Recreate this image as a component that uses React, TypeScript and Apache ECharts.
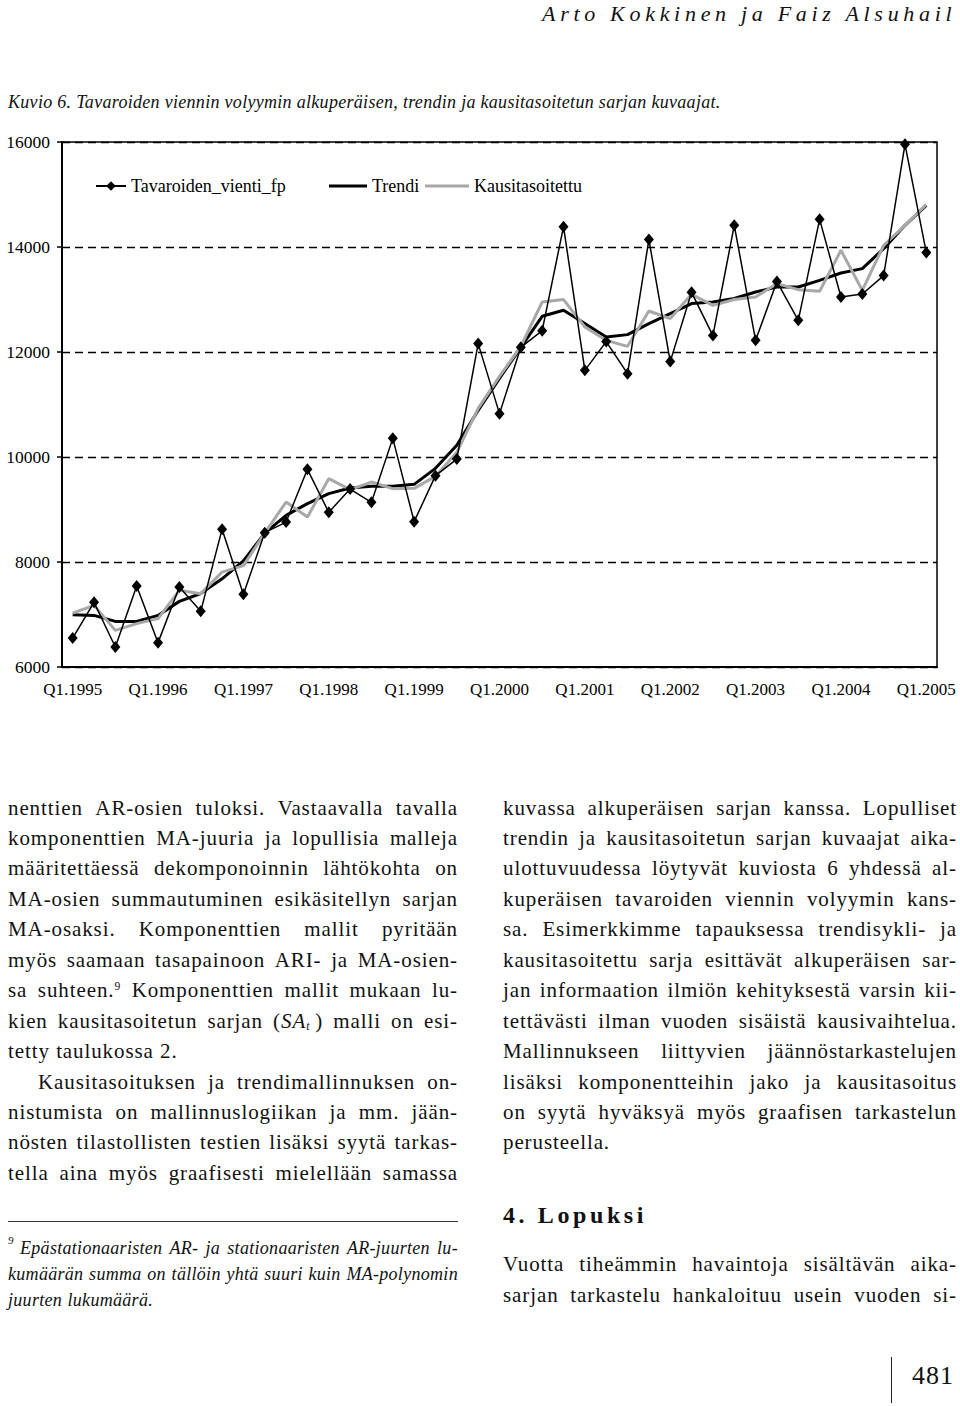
import React, { useEffect, useRef } from "react";
import * as echarts from "echarts";

const categories = [
  "Q1.1995", "Q2.1995", "Q3.1995", "Q4.1995",
  "Q1.1996", "Q2.1996", "Q3.1996", "Q4.1996",
  "Q1.1997", "Q2.1997", "Q3.1997", "Q4.1997",
  "Q1.1998", "Q2.1998", "Q3.1998", "Q4.1998",
  "Q1.1999", "Q2.1999", "Q3.1999", "Q4.1999",
  "Q1.2000", "Q2.2000", "Q3.2000", "Q4.2000",
  "Q1.2001", "Q2.2001", "Q3.2001", "Q4.2001",
  "Q1.2002", "Q2.2002", "Q3.2002", "Q4.2002",
  "Q1.2003", "Q2.2003", "Q3.2003", "Q4.2003",
  "Q1.2004", "Q2.2004", "Q3.2004", "Q4.2004",
  "Q1.2005",
];

const exportsFp = [
  6551, 7231, 6380, 7542, 6464, 7523, 7060, 8622, 7384, 8559,
  8761, 9765, 8946, 9390, 9136, 10355, 8769, 9645, 9961, 12160,
  10826, 12089, 12407, 14388, 11651, 12198, 11588, 14141, 11817, 13137,
  12312, 14413, 12222, 13341, 12603, 14527, 13047, 13104, 13455, 15956,
  13893,
];

const trend = [
  6997, 6983, 6869, 6869, 6983, 7250, 7400, 7680, 8020, 8551,
  8889, 9112, 9302, 9409, 9441, 9441, 9479, 9784, 10222, 10889,
  11498, 12089, 12680, 12794, 12541, 12285, 12331, 12541, 12731, 12922,
  12952, 13020, 13142, 13238, 13238, 13365, 13504, 13588, 13969, 14413,
  14794,
];

const seasonAdj = [
  7027, 7174, 6698, 6826, 6921, 7460, 7397, 7808, 7930, 8551,
  9142, 8856, 9588, 9378, 9523, 9397, 9403, 9632, 10089, 10927,
  11536, 12108, 12952, 12998, 12476, 12222, 12108, 12781, 12636, 13099,
  12889, 13000, 13047, 13303, 13188, 13156, 13937, 13175, 14032, 14413,
  14813,
];

const seriesNames = ["Tavaroiden_vienti_fp", "Trendi", "Kausitasoitettu"];

const headerText = "Arto Kokkinen ja Faiz Alsuhail";
const captionText =
  "Kuvio 6. Tavaroiden viennin volyymin alkuperäisen, trendin ja kausitasoitetun sarjan kuvaajat.";

// "|" at end marks a non-justified (last) line, ">" at start marks paragraph indent
const leftLines = [
  "nenttien AR-osien tuloksi. Vastaavalla tavalla",
  "komponenttien MA-juuria ja lopullisia malleja",
  "määritettäessä dekomponoinnin lähtökohta on",
  "MA-osien summautuminen esikäsitellyn sarjan",
  "MA-osaksi. Komponenttien mallit pyritään",
  "myös saamaan tasapainoon ARI- ja MA-osien-",
  "sa suhteen.^9 Komponenttien mallit mukaan lu-",
  "kien kausitasoitetun sarjan (SA_t) malli on esi-",
  "tetty taulukossa 2.|",
  ">Kausitasoituksen ja trendimallinnuksen on-",
  "nistumista on mallinnuslogiikan ja mm. jään-",
  "nösten tilastollisten testien lisäksi syytä tarkas-",
  "tella aina myös graafisesti mielellään samassa",
];

const rightLines = [
  "kuvassa alkuperäisen sarjan kanssa. Lopulliset",
  "trendin ja kausitasoitetun sarjan kuvaajat aika-",
  "ulottuvuudessa löytyvät kuviosta 6 yhdessä al-",
  "kuperäisen tavaroiden viennin volyymin kans-",
  "sa. Esimerkkimme tapauksessa trendisykli- ja",
  "kausitasoitettu sarja esittävät alkuperäisen sar-",
  "jan informaation ilmiön kehityksestä varsin kii-",
  "tettävästi ilman vuoden sisäistä kausivaihtelua.",
  "Mallinnukseen liittyvien jäännöstarkastelujen",
  "lisäksi komponentteihin jako ja kausitasoitus",
  "on syytä hyväksyä myös graafisen tarkastelun",
  "perusteella.|",
];

const sectionTitle = "4. Lopuksi";
const sectionLines = [
  "Vuotta tiheämmin havaintoja sisältävän aika-",
  "sarjan tarkastelu hankaloituu usein vuoden si-",
];

const footnoteMark = "9";
const footnoteLines = [
  "Epästationaaristen AR- ja stationaaristen AR-juurten lu-",
  "kumäärän summa on tällöin yhtä suuri kuin MA-polynomin",
  "juurten lukumäärä.|",
];

const pageNumber = "481";

const FONT = "'Liberation Serif', 'Times New Roman', serif";

function renderWord(w: string, key: number) {
  if (w.includes("^")) {
    const [base, sup] = w.split("^");
    return (
      <span key={key}>
        {base}
        <sup style={{ fontSize: "0.55em", verticalAlign: "0.6em", lineHeight: 0 }}>{sup}</sup>
      </span>
    );
  }
  if (w.includes("SA_t")) {
    return (
      <span key={key}>
        (<i>SA</i>
        <sub style={{ fontSize: "0.55em", verticalAlign: "-0.2em", lineHeight: 0 }}>
          <i>t</i>
        </sub>
        {"\u2009)"}
      </span>
    );
  }
  return <span key={key}>{w}</span>;
}

function TextLine(props: {
  text: string;
  x: number;
  y: number;
  w: number;
  size: number;
  italic?: boolean;
  spacing?: number;
}) {
  let t = props.text;
  let justify = true;
  let indent = 0;
  if (t.endsWith("|")) {
    justify = false;
    t = t.slice(0, -1);
  }
  if (t.startsWith(">")) {
    indent = 30;
    t = t.slice(1);
  }
  const words = t.split(" ");
  const base: React.CSSProperties = {
    position: "absolute",
    left: props.x + indent,
    top: props.y - 15,
    width: props.w - indent,
    height: 30,
    display: "flex",
    alignItems: "center",
    justifyContent: justify ? "space-between" : "flex-start",
    whiteSpace: "nowrap",
    fontFamily: FONT,
    fontSize: props.size,
    fontStyle: props.italic ? "italic" : "normal",
    letterSpacing: props.spacing ?? 0,
    color: "#111",
    gap: justify ? 0 : "0.3em",
  };
  return <div style={base}>{words.map((w, i) => renderWord(w, i))}</div>;
}

function Chart() {
  const ref = useRef<HTMLDivElement>(null);
  useEffect(() => {
    if (!ref.current) return;
    const chart = echarts.init(ref.current, undefined, { renderer: "svg" });
    const labelStyle = { color: "#000", fontSize: 17.5, fontFamily: FONT };
    const legendBase = {
      top: 172,
      itemGap: 0,
      textStyle: { color: "#000", fontSize: 18, fontFamily: FONT },
    };
    chart.setOption({
      animation: false,
      backgroundColor: "transparent",
      textStyle: { fontFamily: FONT },
      grid: {
        left: 62,
        top: 142,
        width: 875,
        height: 525,
        show: true,
        borderColor: "#000",
        borderWidth: 1.5,
        backgroundColor: "transparent",
      },
      legend: [
        { ...legendBase, data: [seriesNames[0]], left: 90, itemWidth: 30, itemHeight: 12 },
        {
          ...legendBase,
          data: [{ name: seriesNames[1], icon: "rect" }],
          left: 324,
          itemWidth: 38,
          itemHeight: 3,
        },
        {
          ...legendBase,
          data: [{ name: seriesNames[2], icon: "rect" }],
          left: 420,
          itemWidth: 44,
          itemHeight: 3,
        },
      ],
      xAxis: {
        type: "category",
        data: categories,
        boundaryGap: true,
        axisLine: { lineStyle: { color: "#000", width: 2 } },
        axisTick: { interval: 3, length: 6, lineStyle: { color: "#000", width: 1.5 } },
        axisLabel: { interval: 3, margin: 14, ...labelStyle, fontSize: 17 },
        splitLine: { show: false },
      },
      yAxis: {
        type: "value",
        min: 6000,
        max: 16000,
        interval: 2000,
        axisLine: { show: true, lineStyle: { color: "#000", width: 2 } },
        axisTick: { show: true, length: 5, lineStyle: { color: "#000", width: 1.5 } },
        axisLabel: { margin: 12, formatter: (v: number) => String(v), ...labelStyle },
        splitLine: { show: true, lineStyle: { color: "#000", type: [8, 5], width: 1.3 } },
      },
      series: [
        {
          name: seriesNames[0],
          type: "line",
          data: exportsFp,
          symbol: "diamond",
          symbolSize: [10, 12],
          showSymbol: true,
          itemStyle: { color: "#000" },
          lineStyle: { color: "#000", width: 1.5 },
          z: 4,
        },
        {
          name: seriesNames[1],
          type: "line",
          data: trend,
          symbol: "none",
          itemStyle: { color: "#000" },
          lineStyle: { color: "#000", width: 3 },
          z: 2,
        },
        {
          name: seriesNames[2],
          type: "line",
          data: seasonAdj,
          symbol: "none",
          itemStyle: { color: "#a8a8a8" },
          lineStyle: { color: "#a8a8a8", width: 3 },
          z: 3,
        },
      ],
    });
    return () => chart.dispose();
  }, []);
  return (
    <div
      ref={ref}
      style={{ position: "absolute", left: 0, top: 0, width: 960, height: 740 }}
    />
  );
}

export default function App() {
  const lineY = (k: number) => 808 + 30.45 * k;
  return (
    <div
      style={{
        position: "absolute",
        left: 0,
        top: 0,
        width: 960,
        height: 1406,
        background: "#fff",
        overflow: "hidden",
        fontFamily: FONT,
      }}
    >
      <Chart />
      <div
        style={{
          position: "absolute",
          left: 542,
          top: 0,
          height: 28,
          lineHeight: "28px",
          fontSize: 22,
          fontStyle: "italic",
          letterSpacing: 4.7,
          whiteSpace: "nowrap",
          color: "#111",
        }}
      >
        {headerText}
      </div>
      <div
        style={{
          position: "absolute",
          left: 8,
          top: 89,
          height: 26,
          lineHeight: "26px",
          fontSize: 18,
          fontStyle: "italic",
          letterSpacing: 0.3,
          whiteSpace: "nowrap",
          color: "#111",
        }}
      >
        {captionText}
      </div>
      {leftLines.map((t, k) => (
        <TextLine key={"l" + k} text={t} x={8} y={lineY(k)} w={450} size={21} spacing={0.9} />
      ))}
      {rightLines.map((t, k) => (
        <TextLine key={"r" + k} text={t} x={503} y={lineY(k)} w={454} size={21} spacing={0.9} />
      ))}
      <div
        style={{
          position: "absolute",
          left: 503,
          top: 1200,
          height: 30,
          lineHeight: "30px",
          fontSize: 24,
          fontWeight: "bold",
          letterSpacing: 3.6,
          whiteSpace: "nowrap",
          color: "#111",
        }}
      >
        {sectionTitle}
      </div>
      {sectionLines.map((t, k) => (
        <TextLine key={"s" + k} text={t} x={503} y={lineY(15 + k)} w={454} size={21} spacing={0.9} />
      ))}
      <div
        style={{
          position: "absolute",
          left: 8,
          top: 1221,
          width: 450,
          height: 0,
          borderTop: "1px solid #333",
        }}
      />
      <div
        style={{
          position: "absolute",
          left: 8,
          top: 1234,
          fontSize: 11,
          fontStyle: "italic",
          color: "#111",
          lineHeight: "12px",
        }}
      >
        {footnoteMark}
      </div>
      {footnoteLines.map((t, k) => (
        <TextLine
          key={"f" + k}
          text={t}
          x={k === 0 ? 20 : 8}
          y={1248 + 26 * k}
          w={k === 0 ? 438 : 450}
          size={18}
          italic
          spacing={0.3}
        />
      ))}
      <div
        style={{
          position: "absolute",
          left: 891,
          top: 1357,
          width: 0,
          height: 46,
          borderLeft: "1px solid #222",
        }}
      />
      <div
        style={{
          position: "absolute",
          left: 912,
          top: 1361,
          height: 30,
          lineHeight: "30px",
          fontSize: 26,
          letterSpacing: 1,
          color: "#111",
        }}
      >
        {pageNumber}
      </div>
    </div>
  );
}
